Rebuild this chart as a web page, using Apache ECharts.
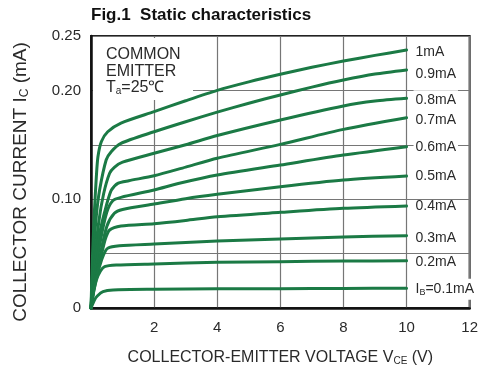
<!DOCTYPE html>
<html>
<head>
<meta charset="utf-8">
<script src="https://cdn.jsdelivr.net/npm/echarts@6/dist/echarts.min.js"></script>
<style>
  html, body { margin: 0; padding: 0; background: #fff; }
  #chart { width: 481px; height: 371px; }
</style>
</head>
<body>
<div id="chart"></div>
<script>
// Collector current Ic (mA) against collector-emitter voltage Vce (V), one curve per base current
const curveNames = ['1mA', '0.9mA', '0.8mA', '0.7mA', '0.6mA', '0.5mA', '0.4mA', '0.3mA', '0.2mA', 'IB=0.1mA'];

const ib10 = [[0,0],[0.05,0.05],[0.11,0.09],[0.17,0.121],[0.22,0.139],[0.33,0.153],[0.53,0.162],[0.95,0.170],[2,0.1805],[3,0.1905],[4,0.2],[5,0.2078],[6,0.2148],[7,0.2212],[8,0.227],[9,0.2322],[10,0.2371]];
const ib09 = [[0,0],[0.08,0.05],[0.17,0.085],[0.27,0.108],[0.48,0.136],[0.64,0.1437],[0.95,0.1514],[2,0.162],[3,0.1712],[4,0.18],[5,0.1882],[6,0.1958],[7,0.203],[8,0.2095],[9,0.215],[10,0.2188]];
const ib08 = [[0,0],[0.1,0.04],[0.25,0.08],[0.4,0.105],[0.59,0.1238],[0.74,0.1293],[1,0.134],[2,0.1422],[3,0.150],[4,0.1585],[6,0.1728],[8,0.1857],[9,0.1902],[10,0.1927]];
const ib07 = [[0,0],[0.1,0.035],[0.25,0.065],[0.43,0.088],[0.64,0.108],[0.85,0.1146],[1.2,0.117],[2,0.1215],[3,0.1295],[4,0.1376],[6,0.1504],[8,0.1642],[10,0.1749]];
const ib06 = [[0,0],[0.1,0.025],[0.3,0.062],[0.5,0.088],[0.69,0.0986],[0.95,0.1017],[2,0.1085],[2.8,0.1146],[4,0.1222],[6,0.1314],[8,0.1406],[10,0.1483]];
const ib05 = [[0,0],[0.1,0.02],[0.3,0.05],[0.5,0.075],[0.74,0.087],[1,0.0905],[2,0.0955],[3,0.1005],[4,0.1045],[6,0.1115],[8,0.1176],[10,0.1213]];
const ib04 = [[0,0],[0.1,0.02],[0.3,0.045],[0.45,0.063],[0.59,0.0717],[0.95,0.0754],[2,0.0775],[3,0.0805],[4,0.0839],[6,0.0879],[8,0.0916],[10,0.0938]];
const ib03 = [[0,0],[0.1,0.018],[0.27,0.038],[0.4,0.049],[0.53,0.0549],[0.9,0.0572],[2,0.0588],[3,0.0602],[4,0.0616],[6,0.0634],[8,0.0653],[10,0.0665]];
const ib02 = [[0,0],[0.08,0.014],[0.17,0.0257],[0.3,0.034],[0.43,0.038],[0.8,0.0395],[2,0.0405],[4,0.042],[6,0.0426],[8,0.0431],[10,0.0435]];
const ib01 = [[0,0],[0.11,0.0074],[0.2,0.011],[0.38,0.015],[0.7,0.0166],[2,0.0172],[4,0.0176],[6,0.0178],[8,0.018],[10,0.0181]];

const curves = [ib10, ib09, ib08, ib07, ib06, ib05, ib04, ib03, ib02, ib01];

const xTicks = [2, 4, 6, 8, 10, 12];
const yTickLabels = ['0', '0.10', '0.20', '0.25'];

const FONT = 'Liberation Sans, Arial, sans-serif';
const GREEN = '#1b7a45';
const TEXT = '#2a2a2a';

// small vertical nudges for a few end labels
const labelShift = [2, 4, 2, 2, 0, 0, 0, 2, 1, 1];
// labels that sit over a grid line keep it visible
const clearBg = [true, true, true, true, true, true, false, true, false, true];

const chart = echarts.init(document.getElementById('chart'), null, { renderer: 'canvas' });

const series = curves.map((pts, i) => ({
  name: curveNames[i],
  type: 'line',
  data: pts,
  smooth: 0.25,
  showSymbol: false,
  symbol: 'none',
  lineStyle: { color: GREEN, width: 3, cap: 'round', join: 'round' },
  z: 3,
  endLabel: {
    show: true,
    distance: 7,
    offset: [0, labelShift[i]],
    padding: [3, 2, 3, 2],
    backgroundColor: clearBg[i] ? '#fff' : 'transparent',
    color: TEXT,
    fontFamily: FONT,
    fontSize: 14,
    formatter: i === 9 ? '{m|I}{s|B}{m|=0.1mA}' : curveNames[i],
    rich: {
      m: { fontFamily: FONT, fontSize: 14, color: TEXT },
      s: { fontFamily: FONT, fontSize: 9, color: TEXT, padding: [6, 0, 0, 0] }
    }
  }
}));

chart.setOption({
  animation: false,
  backgroundColor: '#fff',
  title: {
    text: 'Fig.1  Static characteristics',
    left: 91,
    top: 7,
    padding: 0,
    textStyle: { fontFamily: FONT, fontSize: 17, fontWeight: 'bold', color: '#111' }
  },
  grid: {
    left: 91, right: 10, top: 36, bottom: 63,
    show: true, borderColor: '#222', borderWidth: 2, backgroundColor: 'transparent'
  },
  xAxis: {
    type: 'value',
    min: 0, max: 12, interval: 2,
    axisLine: { show: true, lineStyle: { color: '#111', width: 2.5 } },
    axisTick: { show: false },
    splitLine: { show: true, lineStyle: { color: '#767676', width: 1.2 } },
    axisLabel: {
      margin: 12,
      fontFamily: FONT, fontSize: 15, color: TEXT,
      formatter: v => (xTicks.indexOf(v) >= 0 ? String(v) : '')
    },
    name: '{t|COLLECTOR-EMITTER VOLTAGE V}{s|CE}{t| (V)}',
    nameLocation: 'middle',
    nameGap: 42,
    nameTextStyle: {
      rich: {
        t: { fontFamily: FONT, fontSize: 16, color: TEXT },
        s: { fontFamily: FONT, fontSize: 10, color: TEXT, padding: [6, 0, 0, 0] }
      }
    }
  },
  yAxis: {
    type: 'value',
    min: 0, max: 0.25, interval: 0.05,
    axisLine: { show: true, lineStyle: { color: '#111', width: 2.5 } },
    axisTick: { show: false },
    splitLine: { show: true, lineStyle: { color: '#767676', width: 1.2 } },
    axisLabel: {
      margin: 10,
      fontFamily: FONT, fontSize: 15, color: TEXT,
      formatter: v => {
        const k = Math.round(v * 100);
        const map = { 0: yTickLabels[0], 10: yTickLabels[1], 20: yTickLabels[2], 25: yTickLabels[3] };
        return map[k] !== undefined ? map[k] : '';
      }
    }
  },
  graphic: [
    // white panel behind the test-condition note
    { type: 'rect', z: 1, shape: { x: 93, y: 38, width: 100, height: 62 }, style: { fill: '#fff' } },
    { type: 'text', z: 2, x: 106, y: 47, style: { text: 'COMMON', font: '16px ' + FONT, fill: TEXT } },
    { type: 'text', z: 2, x: 106, y: 63.5, style: { text: 'EMITTER', font: '16px ' + FONT, fill: TEXT } },
    {
      type: 'text', z: 2, x: 106, y: 80,
      style: {
        text: '{t|T}{s|a}{t|=25℃}',
        rich: {
          t: { fontFamily: FONT, fontSize: 16, fill: TEXT, color: TEXT },
          s: { fontFamily: FONT, fontSize: 10, fill: TEXT, color: TEXT, padding: [6, 0, 0, 0] }
        }
      }
    },
    {
      type: 'text', z: 2, x: 21, y: 182, rotation: Math.PI / 2,
      style: {
        text: '{t|COLLECTOR CURRENT I}{s|C}{t| (mA)}',
        align: 'center', verticalAlign: 'middle',
        rich: {
          t: { fontFamily: FONT, fontSize: 19, fill: TEXT, color: TEXT },
          s: { fontFamily: FONT, fontSize: 12, fill: TEXT, color: TEXT, padding: [7, 0, 0, 0] }
        }
      }
    }
  ],
  series: series
});
</script>
</body>
</html>
